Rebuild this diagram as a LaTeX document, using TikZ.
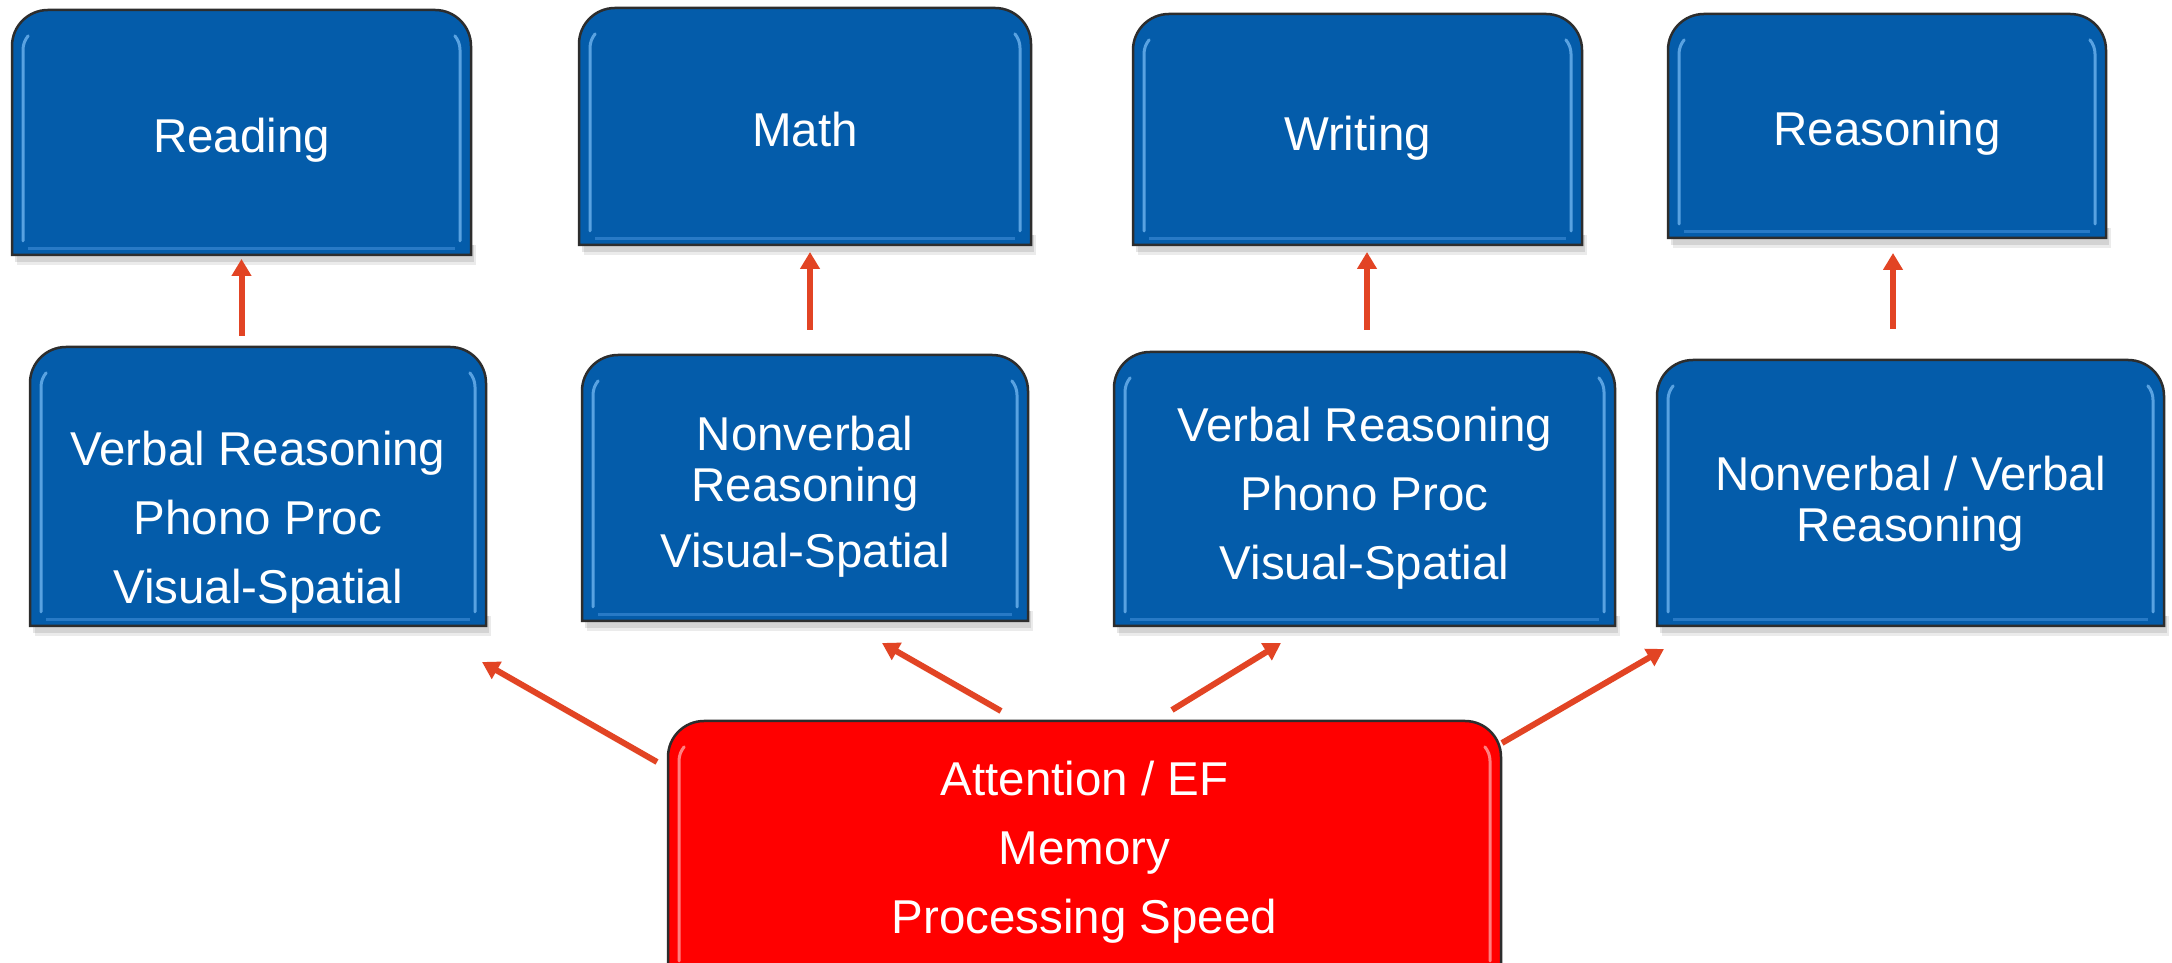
\documentclass[tikz,border=0pt]{standalone}
\usepackage{fontspec}
\setmainfont{Liberation Sans}
\usetikzlibrary{arrows.meta}
\definecolor{boxblue}{RGB}{4,92,170}
\definecolor{boxred}{RGB}{255,0,0}
\definecolor{edgegray}{RGB}{45,45,45}
\definecolor{arrowred}{RGB}{226,68,36}
\definecolor{bluehi}{RGB}{105,175,235}
\definecolor{bluebot}{RGB}{50,130,205}
\definecolor{redhi}{RGB}{255,150,150}
\definecolor{redbot}{RGB}{255,90,90}
% #1 name, #2 x1, #3 top (from top), #4 x2, #5 bottom (from top), #6 fill, #7 highlight, #8 bottom highlight
\newcommand\mypanel[8]{%
  \pgfmathsetmacro\pT{963-#3}%
  \pgfmathsetmacro\pB{963-#5}%
  \pgfmathsetmacro\pW{#4-#2}%
  \pgfmathsetmacro\pH{#5-#3}%
  \pgfmathsetmacro\pX{(#2+#4)/2}%
  \pgfmathsetmacro\pY{963-(#3+#5)/2}%
  \fill[black,opacity=.10] (#2+3,\pB-7) rectangle (#4+3,\pB+10);
  \fill[black,opacity=.08] (#2+5,\pB-10) rectangle (#4+5,\pB+10);
  \path[fill=#6,draw=edgegray,line width=2.5pt] (#2,\pB) -- (#2,\pT-36) arc[start angle=180,end angle=90,radius=36] -- (#4-36,\pT) arc[start angle=90,end angle=0,radius=36] -- (#4,\pB) -- cycle;
  \draw[#7,line width=3pt,line cap=round,opacity=.85] (#2+11,\pB+14) -- (#2+11,\pT-40) arc[start angle=180,end angle=140,radius=22];
  \draw[#7,line width=3pt,line cap=round,opacity=.85] (#4-11,\pB+14) -- (#4-11,\pT-40) arc[start angle=0,end angle=40,radius=22];
  \draw[#8,line width=3pt,opacity=.8] (#2+16,\pB+6) -- (#4-16,\pB+6);
  \node[inner sep=0pt,outer sep=0pt,minimum width=\pW,minimum height=\pH] (#1) at (\pX,\pY) {};
}
\begin{document}
\begin{tikzpicture}[x=1pt,y=1pt,
  arr/.style={draw=arrowred,line width=6pt,-{Triangle[width=19pt,length=17pt]}},
  txt/.style={text=white,font=\fontsize{47.5}{51}\selectfont,align=center,inner sep=0pt}]
\useasboundingbox (0,0) rectangle (2172,963);
\fill[white] (0,0) rectangle (2172,963);
\clip (0,0) rectangle (2172,963);
% top row
\mypanel{r1}{12}{10}{471}{255}{boxblue}{bluehi}{bluebot}
\mypanel{r2}{579}{8}{1031}{245}{boxblue}{bluehi}{bluebot}
\mypanel{r3}{1133}{14}{1582}{245}{boxblue}{bluehi}{bluebot}
\mypanel{r4}{1668}{14}{2106}{238}{boxblue}{bluehi}{bluebot}
% middle row
\mypanel{b1}{30}{347}{486}{626}{boxblue}{bluehi}{bluebot}
\mypanel{b2}{582}{355}{1028}{621}{boxblue}{bluehi}{bluebot}
\mypanel{b3}{1114}{352}{1615}{626}{boxblue}{bluehi}{bluebot}
\mypanel{b4}{1657}{360}{2164}{626}{boxblue}{bluehi}{bluebot}
% bottom
\mypanel{red}{668}{721}{1501}{975}{boxred}{redhi}{redbot}
% texts
\node[txt] (t1) at ([yshift=-8]r1.center) {Reading};
\node[txt] (t2) at ([yshift=-3]r2.center) {Math};
\node[txt] (t3) at ([yshift=-9]r3.center) {Writing};
\node[txt] (t4) at ([yshift=-7.5]r4.center) {Reasoning};
\node[txt] (s1) at ([yshift=-36]b1.center) {Verbal Reasoning\\[18pt]Phono Proc\\[18pt]Visual-Spatial};
\node[txt] (s2) at ([yshift=-9]b2.center) {Nonverbal\\Reasoning\\[15pt]Visual-Spatial};
\node[txt] (s3) at ([yshift=-9]b3.center) {Verbal Reasoning\\[18pt]Phono Proc\\[18pt]Visual-Spatial};
\node[txt] (s4) at ([yshift=-10.5]b4.center) {Nonverbal / Verbal\\Reasoning};
\node[txt] (s5) at (1084.5,111) {Attention / EF\\[18pt]Memory\\[18pt]Processing Speed};
% vertical arrows
\draw[arr,shorten <=11pt,shorten >=4pt] (r1.south |- b1.north) -- (r1.south);
\draw[arr,shorten <=25pt,shorten >=7pt] ([xshift=5pt]r2.south |- b2.north) -- ([xshift=5pt]r2.south);
\draw[arr,shorten <=22pt,shorten >=7pt] ([xshift=2.5pt]b3.north) -- ([xshift=2.5pt]b3.north |- r3.south);
\draw[arr,shorten <=31pt,shorten >=15pt] ([xshift=6pt]r4.south |- b4.north) -- ([xshift=6pt]r4.south);
% diagonal arrows
\draw[arr] ([shift={(-11,-41)}]red.north west) -- ([shift={(-4,-36)}]b1.south east);
\draw[arr] ([shift={(-83.5,10)}]red.north) -- ([shift={(77,-22)}]b2.south);
\draw[arr] ([shift={(87.5,11)}]red.north) -- ([shift={(-83.5,-17)}]b3.south);
\draw[arr] ([shift={(1,-22)}]red.north east) -- ([shift={(7,-23)}]b4.south west);
\end{tikzpicture}
\end{document}
